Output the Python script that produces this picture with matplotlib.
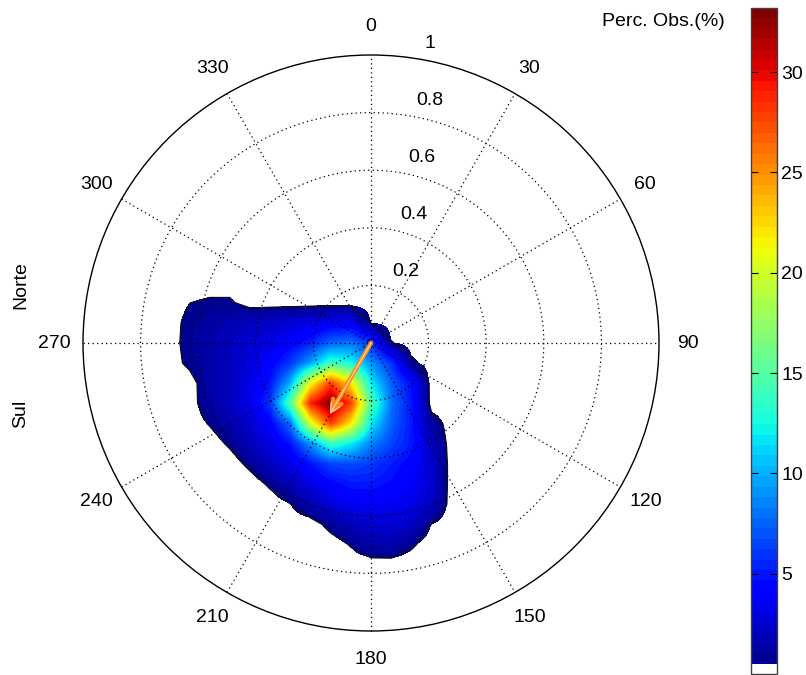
import numpy as np
import matplotlib

matplotlib.use("Agg")
import matplotlib.pyplot as plt
from matplotlib.colors import ListedColormap, Normalize
from matplotlib.patches import Circle

plt.rcParams["font.family"] = ["Liberation Sans", "DejaVu Sans"]

# grid of observation percentages (x east, y north, radius = 1)
x_centres = [-0.70, -0.63, -0.56, -0.49, -0.42, -0.35, -0.28, -0.21,
             -0.14, -0.07, 0.00, 0.07, 0.14, 0.21, 0.28]
y_centres = [0.21, 0.14, 0.07, 0.00, -0.07, -0.14, -0.21, -0.28,
             -0.35, -0.42, -0.49, -0.56, -0.63, -0.70, -0.77]
perc_obs = [
    [0, 0, 0, 0, 0, 0, 0, 0, 0, 0, 0, 0, 0, 0, 0],
    [0, 0.5, 0.7, 0.7, 0, 0, 0, 0, 0, 0, 0, 0, 0, 0, 0],
    [0, 0.9, 1.2, 1.6, 2.0, 2.3, 2.6, 3.0, 3.5, 3.5, 0.5, 0, 0, 0, 0],
    [0, 1.0, 1.4, 2.0, 2.6, 3.0, 4.0, 5.2, 7.5, 8.0, 6.0, 0.6, 0, 0, 0],
    [0, 0.8, 1.4, 2.0, 2.8, 4.0, 6.0, 9.5, 14, 12.5, 9.0, 6.0, 0.8, 0, 0],
    [0, 0, 1.4, 2.0, 3.2, 4.8, 10, 21, 28, 22, 12, 7.5, 4.5, 0, 0],
    [0, 0, 1.3, 2.0, 3.2, 6.0, 15, 29, 33, 28, 15, 8.0, 5.0, 0, 0],
    [0, 0, 0.6, 1.5, 2.5, 4.0, 8.0, 20, 28, 22, 12, 7.5, 5.0, 1.2, 0],
    [0, 0, 0, 0.7, 1.8, 3.0, 4.8, 9.0, 14, 12, 8.5, 6.5, 5.0, 2.0, 0],
    [0, 0, 0, 0, 0.8, 2.0, 3.2, 4.8, 6.5, 6.8, 6.2, 5.2, 4.2, 2.5, 0],
    [0, 0, 0, 0, 0, 0.7, 1.8, 3.0, 4.2, 5.0, 5.0, 4.5, 3.8, 2.5, 0],
    [0, 0, 0, 0, 0, 0, 0.5, 1.6, 2.8, 3.5, 3.8, 3.6, 3.2, 2.2, 0],
    [0, 0, 0, 0, 0, 0, 0, 0, 0.9, 1.8, 2.5, 2.6, 2.2, 0.5, 0],
    [0, 0, 0, 0, 0, 0, 0, 0, 0, 0.6, 1.5, 1.6, 0.7, 0, 0],
    [0, 0, 0, 0, 0, 0, 0, 0, 0, 0, 0, 0, 0, 0, 0],
]
c_min, c_max = 0.0, 33.2
cbar_ticks = [5, 10, 15, 20, 25, 30]

ring_values = [0.2, 0.4, 0.6, 0.8, 1.0]
ring_labels = ["0.2", "0.4", "0.6", "0.8", "1"]
spoke_angles = [0, 30, 60, 90, 120, 150, 180, 210, 240, 270, 300, 330]

# mean direction arrow (degrees clockwise from north, radius units)
arrow_dir = 210.0
arrow_mag = 0.285

# figure geometry in pixels
W, H = 806, 675
cx, cy, R = 371.0, 343.0, 288.0

fig = plt.figure(figsize=(W / 100, H / 100), dpi=100)
ax = fig.add_axes([0, 0, 740 / W, 1])
ax.set_xlim((0 - cx) / R, (740 - cx) / R)
ax.set_ylim((cy - H) / R, cy / R)
ax.axis("off")

jet = plt.get_cmap("jet", 64)(np.linspace(0, 1, 64))
jet[0] = [1, 1, 1, 1]
cmap = ListedColormap(jet)
cmap.set_under("white")
norm = Normalize(vmin=c_min, vmax=c_max)

z = np.array(perc_obs)
dx = (x_centres[1] - x_centres[0]) / 2
dy = (y_centres[0] - y_centres[1]) / 2
im = ax.imshow(z, cmap=cmap, norm=norm, origin="upper", aspect="auto",
               interpolation="bilinear", interpolation_stage="data",
               extent=[x_centres[0] - dx, x_centres[-1] + dx,
                       y_centres[-1] - dy, y_centres[0] + dy], zorder=1)
ax.contour(x_centres, y_centres, z, levels=[c_max / 64], colors="#101010",
           linewidths=0.9, zorder=2)

# polar grid
dot = (0, (1, 2.6))
for r in ring_values[:-1]:
    ax.add_patch(Circle((0, 0), r, fill=False, color="k", lw=0.9,
                        linestyle=dot, zorder=3))
ax.add_patch(Circle((0, 0), 1.0, fill=False, color="k", lw=1.0, zorder=3))
for a in spoke_angles[:6]:
    t = np.deg2rad(a)
    ax.plot([-np.sin(t), np.sin(t)], [-np.cos(t), np.cos(t)], color="k",
            lw=0.9, linestyle=dot, zorder=3)

for a in spoke_angles:
    t = np.deg2rad(a)
    ax.text(1.1 * np.sin(t), 1.1 * np.cos(t), str(a), fontsize=14,
            ha="center", va="center")

t8 = np.deg2rad(8)
for r, lab in zip(ring_values, ring_labels):
    ax.annotate(lab, (r * np.sin(t8), r * np.cos(t8)), xytext=(13, 10),
                textcoords="offset pixels", fontsize=14, ha="left",
                va="baseline")

# arrow
ta = np.deg2rad(arrow_dir)
tip = (arrow_mag * np.sin(ta), arrow_mag * np.cos(ta))
ax.annotate("", xy=tip, xytext=(0, 0),
            arrowprops=dict(arrowstyle="->,head_length=0.7,head_width=0.35",
                            color="#ff8c1a", lw=3.2, shrinkA=0, shrinkB=0),
            zorder=4)
ax.annotate("", xy=tip, xytext=(0, 0),
            arrowprops=dict(arrowstyle="->,head_length=0.7,head_width=0.35",
                            color="#ffd9b0", lw=0.8, shrinkA=0, shrinkB=0),
            zorder=5)

fig.text(21 / W, 1 - 285 / H, "Norte", rotation=90, fontsize=14,
         ha="center", va="center")
fig.text(21 / W, 1 - 414 / H, "Sul", rotation=90, fontsize=14,
         ha="center", va="center")
fig.text(725 / W, 1 - 22 / H, "Perc. Obs.(%)", fontsize=14,
         ha="right", va="center")

# colorbar
cax = fig.add_axes([751 / W, 1 / H, 26 / W, 666 / H])
cb = fig.colorbar(im, cax=cax, ticks=cbar_ticks)
cb.outline.set_edgecolor("#404040")
cb.outline.set_linewidth(1.0)
cax.tick_params(direction="in", left=True, right=True, length=5,
                width=0.8, labelsize=14, pad=3)

fig.savefig("out.png", dpi=100)
